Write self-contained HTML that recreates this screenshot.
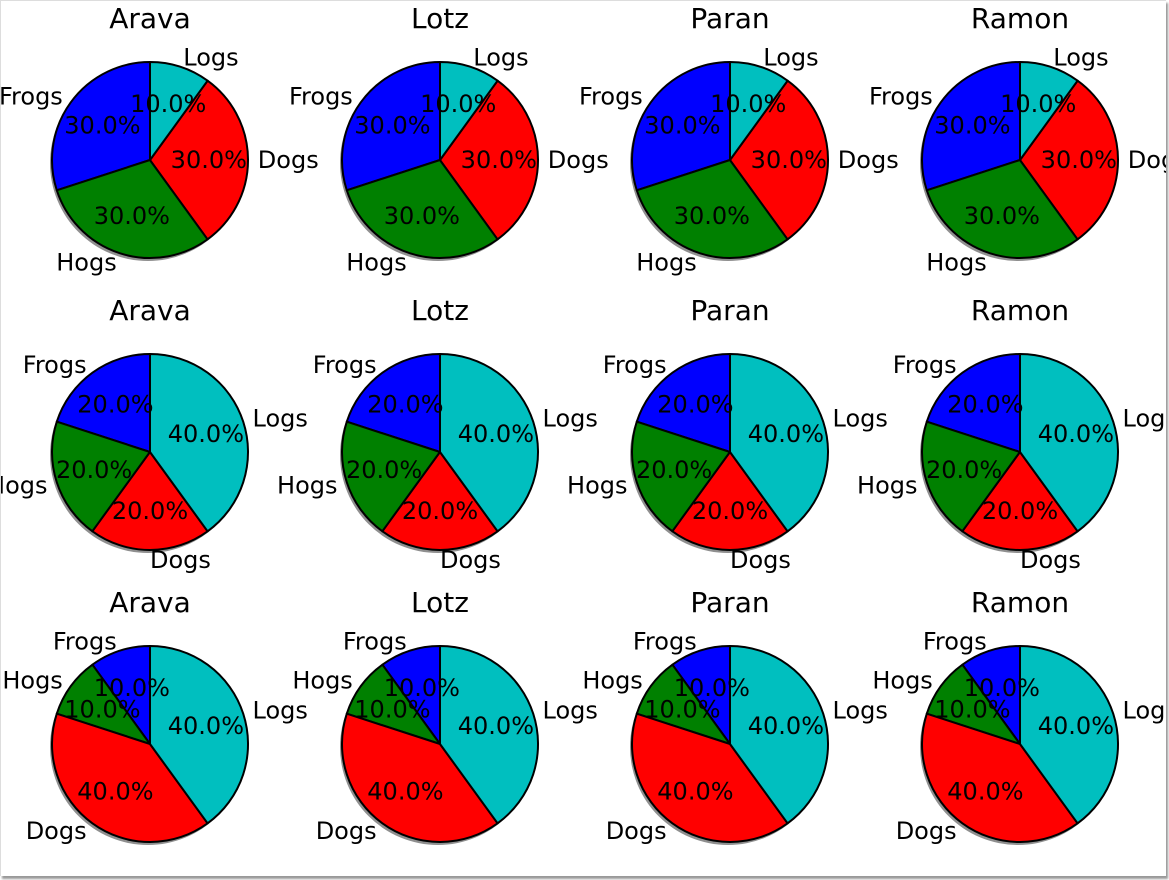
<!DOCTYPE html>
<html><head><meta charset="utf-8"><style>
html,body{margin:0;padding:0;background:#fff;}
#f{width:1165px;height:875px;position:relative;overflow:hidden;border-top:1px solid #ddd;border-left:1px solid #ddd;box-shadow:2px 3px 2px #999;}
svg{display:block;position:absolute;left:-1px;top:-1px}
text{font-family:"DejaVu Sans","Liberation Sans",sans-serif;font-size:24px;fill:#000}
.t{font-size:28px;text-anchor:middle}
path{stroke:#000;stroke-width:2;stroke-linejoin:round}
</style></head><body><div id="f">
<svg width="1169" height="880" viewBox="0 0 1169 880">
<defs>
<g id="p1">
<circle cx="-2" cy="3" r="98" fill="#444" opacity="0.6"/>
<path d="M0,0 L0,-98 A98,98 0 0 0 -93.2,30.3 Z" fill="#0000ff"/>
<path d="M0,0 L-93.2,30.3 A98,98 0 0 0 57.6,79.3 Z" fill="#008000"/>
<path d="M0,0 L57.6,79.3 A98,98 0 0 0 57.6,-79.3 Z" fill="#ff0000"/>
<path d="M0,0 L57.6,-79.3 A98,98 0 0 0 0,-98 Z" fill="#00bfbf"/>
<g dominant-baseline="central">
<text x="-87.2" y="-63.4" text-anchor="end">Frogs</text>
<text x="-33.3" y="102.5" text-anchor="end">Hogs</text>
<text x="107.8" y="0" text-anchor="start">Dogs</text>
<text x="33.3" y="-102.5" text-anchor="start">Logs</text>
<text x="-47.6" y="-34.6" text-anchor="middle">30.0%</text>
<text x="-18.2" y="55.9" text-anchor="middle">30.0%</text>
<text x="58.8" y="0" text-anchor="middle">30.0%</text>
<text x="18.2" y="-55.9" text-anchor="middle">10.0%</text>
</g></g>
<g id="p2">
<circle cx="-2" cy="3" r="98" fill="#444" opacity="0.6"/>
<path d="M0,0 L0,-98 A98,98 0 0 0 -93.2,-30.3 Z" fill="#0000ff"/>
<path d="M0,0 L-93.2,-30.3 A98,98 0 0 0 -57.6,79.3 Z" fill="#008000"/>
<path d="M0,0 L-57.6,79.3 A98,98 0 0 0 57.6,79.3 Z" fill="#ff0000"/>
<path d="M0,0 L57.6,79.3 A98,98 0 0 0 0,-98 Z" fill="#00bfbf"/>
<g dominant-baseline="central">
<text x="-63.4" y="-87.2" text-anchor="end">Frogs</text>
<text x="-102.5" y="33.3" text-anchor="end">Hogs</text>
<text x="0" y="107.8" text-anchor="start">Dogs</text>
<text x="102.5" y="-33.3" text-anchor="start">Logs</text>
<text x="-34.6" y="-47.6" text-anchor="middle">20.0%</text>
<text x="-55.9" y="18.2" text-anchor="middle">20.0%</text>
<text x="0" y="58.8" text-anchor="middle">20.0%</text>
<text x="55.9" y="-18.2" text-anchor="middle">40.0%</text>
</g></g>
<g id="p3">
<circle cx="-2" cy="3" r="98" fill="#444" opacity="0.6"/>
<path d="M0,0 L0,-98 A98,98 0 0 0 -57.6,-79.3 Z" fill="#0000ff"/>
<path d="M0,0 L-57.6,-79.3 A98,98 0 0 0 -93.2,-30.3 Z" fill="#008000"/>
<path d="M0,0 L-93.2,-30.3 A98,98 0 0 0 57.6,79.3 Z" fill="#ff0000"/>
<path d="M0,0 L57.6,79.3 A98,98 0 0 0 0,-98 Z" fill="#00bfbf"/>
<g dominant-baseline="central">
<text x="-33.3" y="-102.5" text-anchor="end">Frogs</text>
<text x="-87.2" y="-63.4" text-anchor="end">Hogs</text>
<text x="-63.4" y="87.2" text-anchor="end">Dogs</text>
<text x="102.5" y="-33.3" text-anchor="start">Logs</text>
<text x="-18.2" y="-55.9" text-anchor="middle">10.0%</text>
<text x="-47.6" y="-34.6" text-anchor="middle">10.0%</text>
<text x="-34.6" y="47.6" text-anchor="middle">40.0%</text>
<text x="55.9" y="-18.2" text-anchor="middle">40.0%</text>
</g></g>
</defs>
<use href="#p1" x="150" y="160"/><use href="#p1" x="440" y="160"/><use href="#p1" x="730" y="160"/><use href="#p1" x="1020" y="160"/>
<use href="#p2" x="150" y="452"/><use href="#p2" x="440" y="452"/><use href="#p2" x="730" y="452"/><use href="#p2" x="1020" y="452"/>
<use href="#p3" x="150" y="744"/><use href="#p3" x="440" y="744"/><use href="#p3" x="730" y="744"/><use href="#p3" x="1020" y="744"/>
<text class="t" x="150" y="28">Arava</text><text class="t" x="440" y="28">Lotz</text><text class="t" x="730" y="28">Paran</text><text class="t" x="1020" y="28">Ramon</text>
<text class="t" x="150" y="320">Arava</text><text class="t" x="440" y="320">Lotz</text><text class="t" x="730" y="320">Paran</text><text class="t" x="1020" y="320">Ramon</text>
<text class="t" x="150" y="612">Arava</text><text class="t" x="440" y="612">Lotz</text><text class="t" x="730" y="612">Paran</text><text class="t" x="1020" y="612">Ramon</text>
</svg></div></body></html>
